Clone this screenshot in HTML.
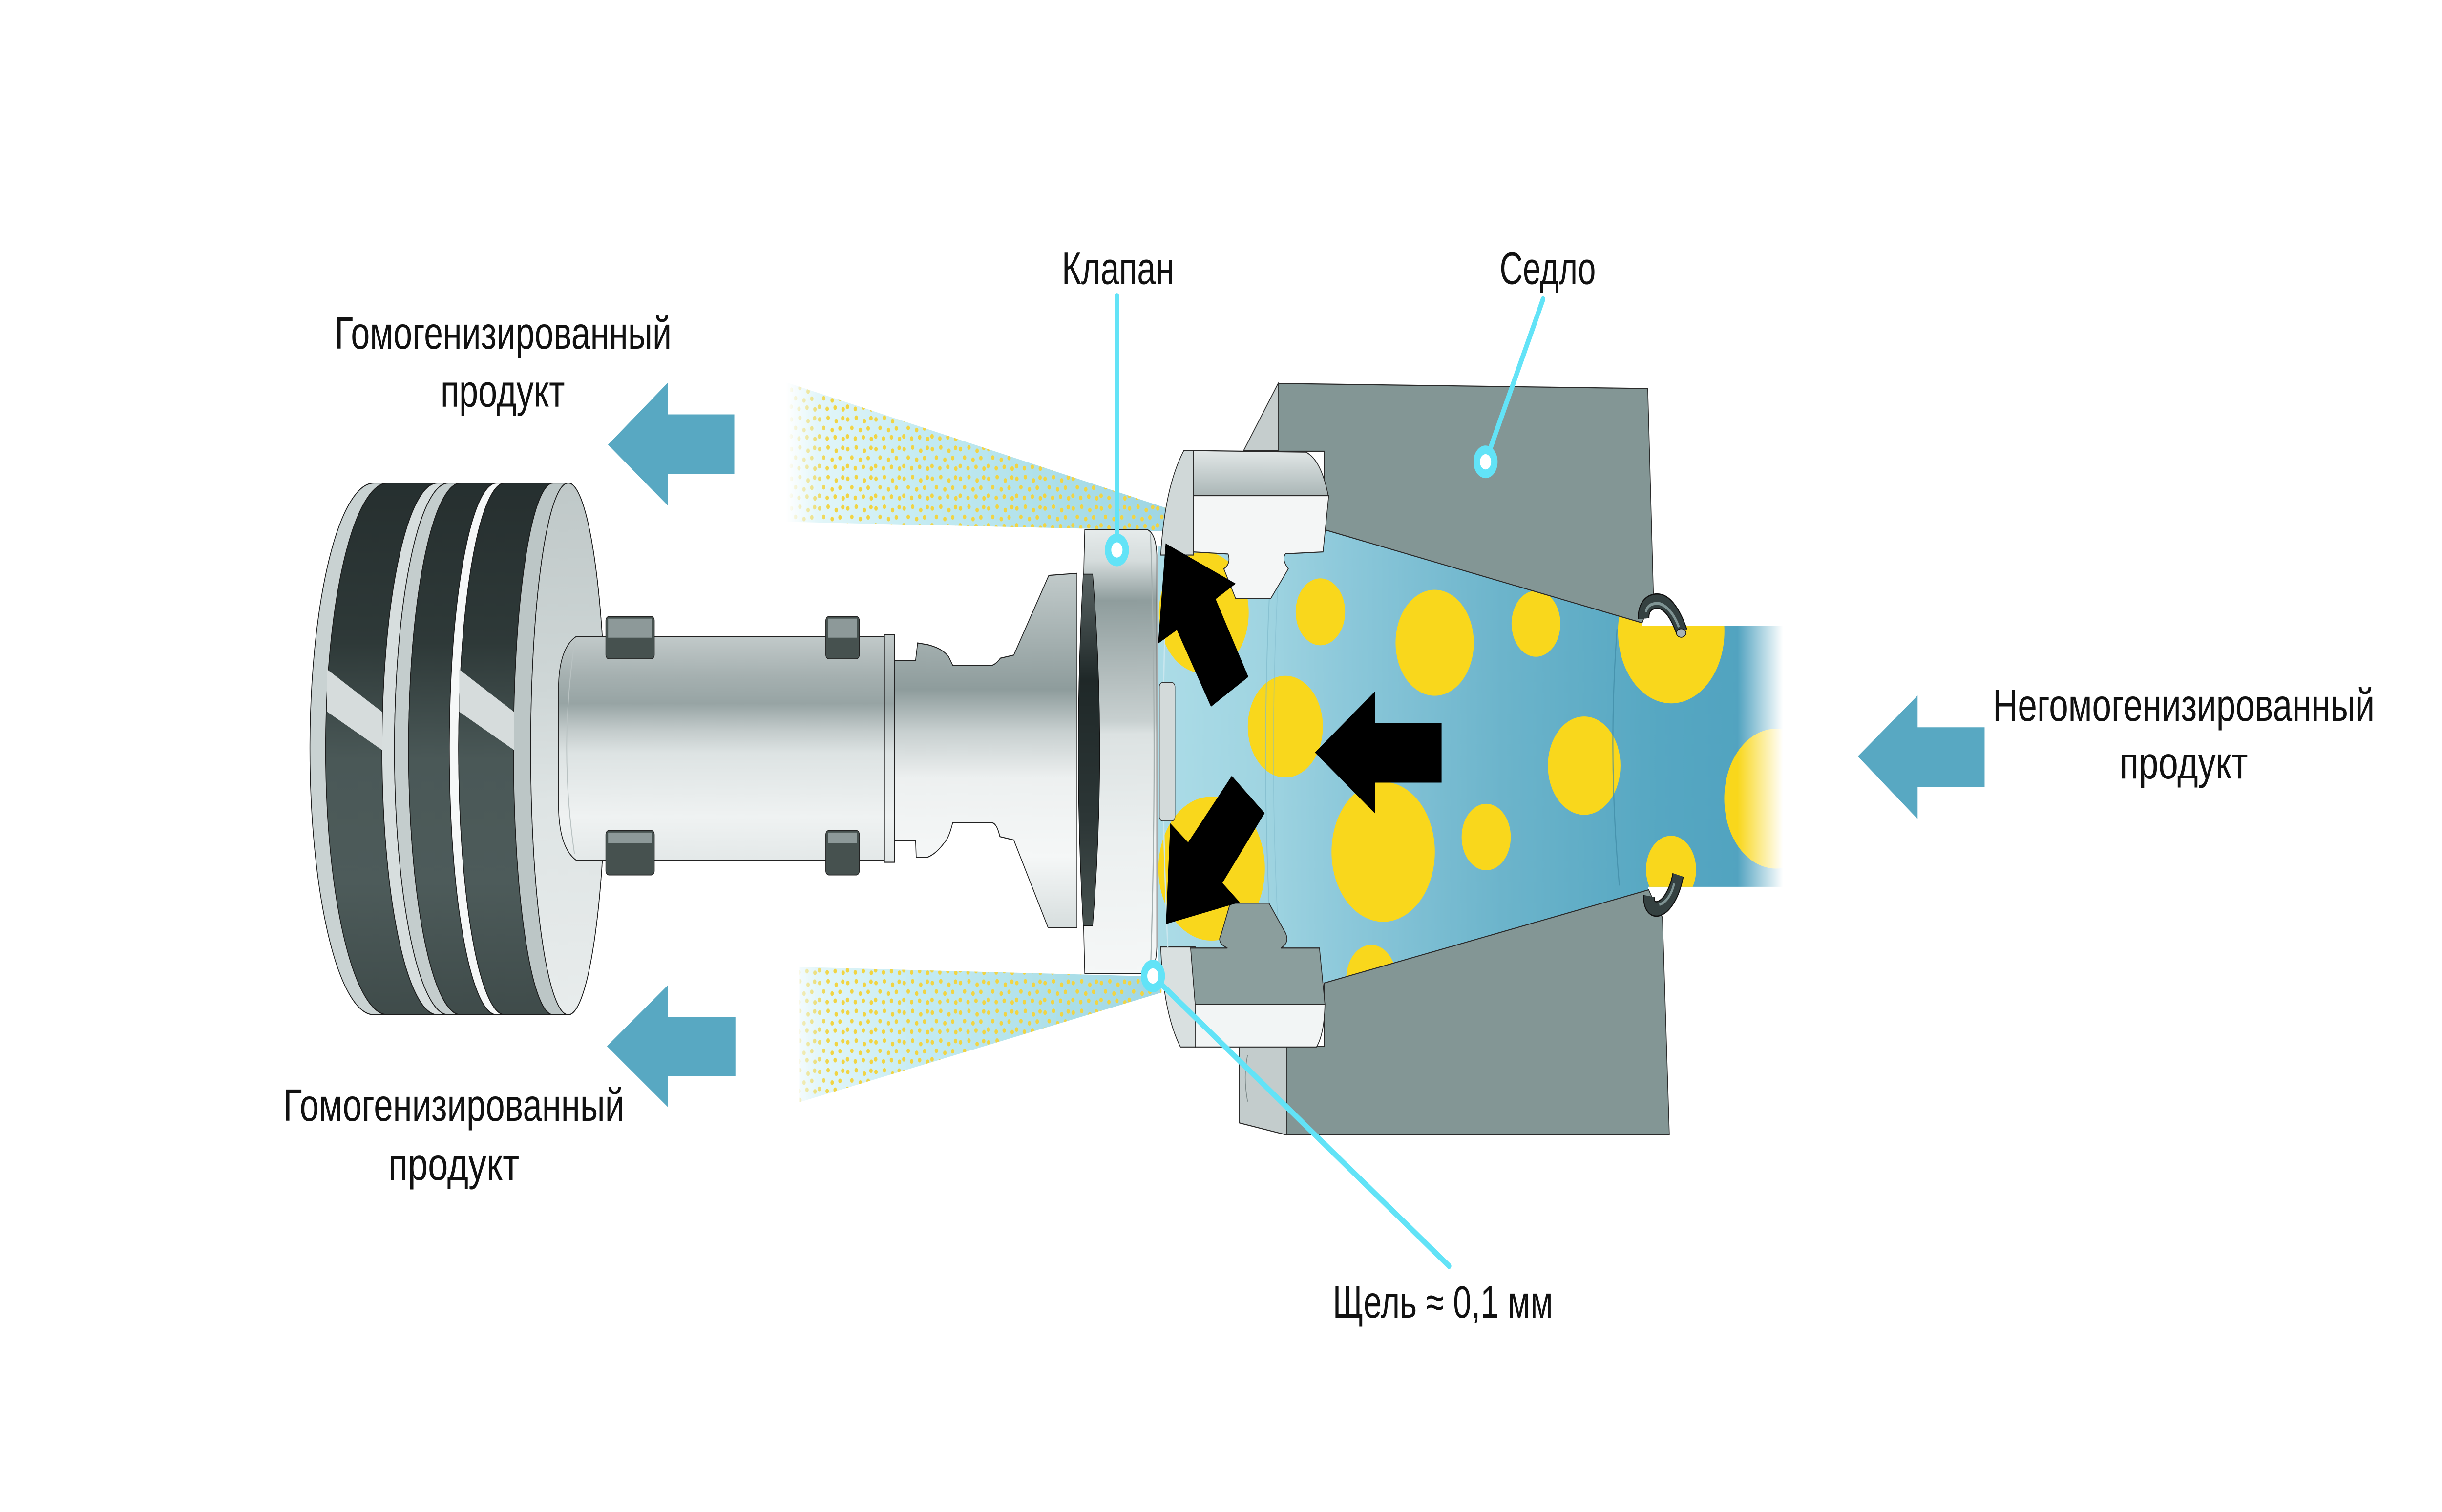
<!DOCTYPE html>
<html><head><meta charset="utf-8"><style>
html,body{margin:0;padding:0;width:100%;height:100%;background:#fff;overflow:hidden}
svg{display:block;position:absolute;left:0;top:0;width:100vw;height:100vh}
text{font-family:"Liberation Sans","DejaVu Sans",sans-serif;font-size:21.3px;fill:#111}
</style></head><body>
<svg xmlns="http://www.w3.org/2000/svg" viewBox="0 0 1560 713.7" preserveAspectRatio="none">
<defs>
<linearGradient id="spT" gradientUnits="userSpaceOnUse" x1="502" y1="0" x2="752" y2="0">
<stop offset="0" stop-color="#ffffff"/><stop offset="0.08" stop-color="#e3f6f9"/><stop offset="0.35" stop-color="#c4ebf2"/><stop offset="0.7" stop-color="#acdfe9"/><stop offset="1" stop-color="#9dd5e3"/></linearGradient>
<linearGradient id="fadeM" gradientUnits="userSpaceOnUse" x1="503" y1="0" x2="530" y2="0">
<stop offset="0" stop-color="#000"/><stop offset="1" stop-color="#fff"/></linearGradient>
<mask id="spMask" maskUnits="userSpaceOnUse" x="490" y="170" width="280" height="360"><rect x="490" y="170" width="280" height="360" fill="url(#fadeM)"/></mask>
<pattern id="dots" patternUnits="userSpaceOnUse" width="18" height="14">
<g fill="#f1d443">
<circle cx="1.6" cy="2" r="1.1"/><circle cx="7" cy="1.2" r="1.1"/><circle cx="12.2" cy="2.8" r="1.1"/><circle cx="16.4" cy="1.4" r="1.1"/>
<circle cx="4.2" cy="6" r="1.1"/><circle cx="9.6" cy="7" r="1.1"/><circle cx="14.6" cy="6.2" r="1.1"/>
<circle cx="1.4" cy="10" r="1.1"/><circle cx="6.4" cy="11" r="1.1"/><circle cx="11.5" cy="10.4" r="1.1"/><circle cx="16.6" cy="11.2" r="1.1"/>
</g></pattern>
<linearGradient id="blueG" gradientUnits="userSpaceOnUse" x1="740" y1="0" x2="1140" y2="0">
<stop offset="0" stop-color="#acdce7"/><stop offset="0.17" stop-color="#9fd4e1"/><stop offset="0.3" stop-color="#8cc8da"/><stop offset="0.55" stop-color="#6cb4cb"/><stop offset="0.8" stop-color="#56a7c2"/><stop offset="1" stop-color="#4fa1bf"/></linearGradient>
<linearGradient id="pf" gradientUnits="userSpaceOnUse" x1="1110" y1="0" x2="1139" y2="0">
<stop offset="0" stop-color="#fff" stop-opacity="0"/><stop offset="1" stop-color="#fff" stop-opacity="1"/></linearGradient>
<clipPath id="coneClip"><path d="M740,258 L846,250 L1049,294 L1049,295.5 L1142,295.5 L1142,418.6 L1053,418.6 L1053,420 L846,464 L740,462 Z"/></clipPath>
<linearGradient id="dk" gradientUnits="userSpaceOnUse" x1="0" y1="228" x2="0" y2="479">
<stop offset="0" stop-color="#262f2f"/><stop offset="0.3" stop-color="#2e3938"/><stop offset="0.52" stop-color="#4a5857"/><stop offset="0.75" stop-color="#4d5b5a"/><stop offset="1" stop-color="#3f4b4a"/></linearGradient>
<linearGradient id="fc" gradientUnits="userSpaceOnUse" x1="0" y1="228" x2="0" y2="479">
<stop offset="0" stop-color="#bfc8c8"/><stop offset="0.4" stop-color="#cfd7d7"/><stop offset="0.6" stop-color="#dee4e4"/><stop offset="1" stop-color="#e8ecec"/></linearGradient>
<linearGradient id="shaftG" gradientUnits="userSpaceOnUse" x1="0" y1="300" x2="0" y2="407">
<stop offset="0" stop-color="#c2caca"/><stop offset="0.18" stop-color="#a5b0b0"/><stop offset="0.3" stop-color="#97a4a4"/><stop offset="0.42" stop-color="#c3cbcb"/><stop offset="0.52" stop-color="#dde3e3"/><stop offset="0.8" stop-color="#eff2f2"/><stop offset="1" stop-color="#e3e8e8"/></linearGradient>
<linearGradient id="headG" gradientUnits="userSpaceOnUse" x1="0" y1="270" x2="0" y2="438">
<stop offset="0" stop-color="#c2cbcb"/><stop offset="0.2" stop-color="#a3afaf"/><stop offset="0.33" stop-color="#8e9c9c"/><stop offset="0.45" stop-color="#c8d0d0"/><stop offset="0.58" stop-color="#edf0f0"/><stop offset="0.8" stop-color="#f5f7f7"/><stop offset="1" stop-color="#d7dede"/></linearGradient>
<linearGradient id="discG" gradientUnits="userSpaceOnUse" x1="0" y1="250" x2="0" y2="460">
<stop offset="0" stop-color="#e6ebeb"/><stop offset="0.07" stop-color="#d5dcdc"/><stop offset="0.16" stop-color="#8f9d9d"/><stop offset="0.3" stop-color="#adb8b8"/><stop offset="0.43" stop-color="#c8d0d0"/><stop offset="0.46" stop-color="#dce2e2"/><stop offset="0.7" stop-color="#ecf0f0"/><stop offset="1" stop-color="#f5f7f7"/></linearGradient>
<linearGradient id="oringG" gradientUnits="userSpaceOnUse" x1="0" y1="271" x2="0" y2="437">
<stop offset="0" stop-color="#5a6464"/><stop offset="0.3" stop-color="#1f2828"/><stop offset="0.7" stop-color="#2c3636"/><stop offset="1" stop-color="#46514f"/></linearGradient>
<linearGradient id="nutTop" gradientUnits="userSpaceOnUse" x1="0" y1="212" x2="0" y2="234">
<stop offset="0" stop-color="#e4e9e9"/><stop offset="1" stop-color="#aab6b6"/></linearGradient>
</defs>

<rect x="0" y="0" width="1560" height="713.7" fill="#fff"/>

<!-- sprays -->
<polygon points="502,180.4 752,241.5 752,251 698,249.6 502,246.3" fill="url(#spT)"/>
<polygon points="502,180.4 752,241.5 752,251 698,249.6 502,246.3" fill="url(#dots)" mask="url(#spMask)"/>
<polygon points="510.6,456.4 742,461 742,468.5 510.6,520.3" fill="url(#spT)"/>
<polygon points="510.6,456.4 742,461 742,468.5 510.6,520.3" fill="url(#dots)" mask="url(#spMask)"/>

<!-- blue arrows -->
<g fill="#58a8c2">
<polygon points="388.4,209.9 426.7,180.6 426.7,195.6 469.1,195.6 469.1,223.7 426.7,223.7 426.7,238.7"/>
<polygon points="387.7,493.8 426.7,465 426.7,480 469.8,480 469.8,508 426.7,508 426.7,522.6"/>
<polygon points="1186.8,357 1225,328.3 1225,343.3 1267.8,343.3 1267.8,371.5 1225,371.5 1225,386.6"/>
</g>

<!-- blue cone interior & pipe -->
<path d="M740,258 L846,250 L1049,294 L1049,295.5 L1142,295.5 L1142,418.6 L1053,418.6 L1053,420 L846,464 L740,462 Z" fill="url(#blueG)"/>
<g clip-path="url(#coneClip)" fill="#f9d71c">
<circle cx="769" cy="289.2" r="28.7"/>
<circle cx="843.5" cy="288.8" r="15.8"/>
<circle cx="916.5" cy="303.4" r="25"/>
<circle cx="981.2" cy="294.4" r="15.6"/>
<circle cx="821.1" cy="343" r="24"/>
<circle cx="883.6" cy="402.1" r="33"/>
<circle cx="949.4" cy="395.1" r="15.7"/>
<circle cx="1012" cy="361.4" r="23.2"/>
<circle cx="1067.6" cy="298" r="34"/>
<circle cx="1067.5" cy="410.5" r="16"/>
<circle cx="1134.5" cy="377" r="33"/>
<circle cx="774" cy="410" r="34"/>
<circle cx="876" cy="462" r="16"/>
</g>
<path d="M812,266 Q805,355 812,446" fill="none" stroke="#7fb9cb" stroke-width="0.6" opacity="0.7"/>
<path d="M817,267 Q810,355 817,445" fill="none" stroke="#7fb9cb" stroke-width="0.5" opacity="0.5"/>
<path d="M1033,297 Q1027,357 1034.5,418" fill="none" stroke="#3f89a4" stroke-width="0.7" opacity="0.7"/>
<rect x="1108" y="290" width="45" height="135" fill="url(#pf)"/>

<!-- seat -->
<g stroke="#2a2a2a" stroke-width="0.5">
<path d="M816.5,181 L1052.6,183.4 L1056.2,280 L1049,294 L846,250 L846,213 L816.5,213 Z" fill="#839695"/>
<path d="M816.5,181 L794.5,212.6 L816.5,212.6 Z" fill="#c5cdcd"/>
<path d="M846,464 L1053.2,420 L1058,428 L1062,433 L1066.4,535.7 L821.8,535.7 L821.8,494 L846,494 Z" fill="#839695"/>
<path d="M791.6,494 L821.8,494 L821.8,535.7 L791.6,530 Z" fill="#c3cccc"/>
</g>
<path d="M797,498 Q794,508 797,520" fill="none" stroke="#7d8a8a" stroke-width="0.5"/>
<!-- O-rings -->
<g fill="none" stroke-linecap="butt">
<path d="M1050,292 C1049.5,285 1056,283 1061,284 C1067,285.5 1071.5,292 1074.5,298.5" stroke="#111" stroke-width="7.4"/>
<path d="M1050,292 C1049.5,285 1056,283 1061,284 C1067,285.5 1071.5,292 1074.5,298.5" stroke="#354141" stroke-width="6.2"/>
<path d="M1051.5,289 C1052,285.5 1056,284.5 1060.5,285 C1066,286.5 1070,291 1072.5,296" stroke="#7f9494" stroke-width="1.4"/>
<path d="M1072,413 C1070,421 1065,428 1059,429 C1055,429.5 1053,426.5 1053.5,423" stroke="#111" stroke-width="7.4"/>
<path d="M1072,413 C1070,421 1065,428 1059,429 C1055,429.5 1053,426.5 1053.5,423" stroke="#354141" stroke-width="6.2"/>
<path d="M1069.5,417 C1068,422 1064.5,426 1060,427" stroke="#7f9494" stroke-width="1.3"/>
</g>
<ellipse cx="1074" cy="298.8" rx="3" ry="2" fill="#a8b4b4" stroke="#111" stroke-width="0.4"/>

<!-- nut -->
<g stroke="#2a2a2a" stroke-width="0.5">
<path d="M756.3,212.6 Q744,230 741.5,262 L762.3,262 L762.3,212.6 Z" fill="#d0d8d8"/>
<path d="M756.3,212.6 L834.2,213.4 Q844,217 848.5,234 L762.3,234 L762.3,212.6 Z" fill="url(#nutTop)"/>
<path d="M762.3,234 L848.8,234 L845.2,260.5 L821.2,261.4 Q818.5,264 823,268.5 L811.7,282.6 L789.4,282.6 L781.8,268.5 Q786.5,266 784.5,261.5 L762.3,260.5 Z" fill="#f4f6f6"/>
<path d="M741.5,447 Q743,478 754.1,494.2 L763.5,494.2 L763.5,447 Z" fill="#d9e0e0"/>
<path d="M763.5,474 L846.4,474 Q846,488 841,494.2 L763.5,494.2 Z" fill="#f2f5f5"/>
<path d="M785.9,426.3 L810.6,426.3 L821.2,440.4 Q824,445 818.2,447.5 L842.9,447.5 L846.4,474 L763.5,474 L760.6,447.5 L784.1,447.5 Q777,445 780,441.3 Z" fill="#8b9e9d"/>
</g>
<path d="M746,262 Q740,355 746,447" fill="none" stroke="#c9e6ee" stroke-width="0.8"/>

<!-- piston disc -->
<g stroke="#1c1c1c" stroke-width="0.5">
<path d="M239,228 L363,228 A24,125.5 0 0 1 363,479 L239,479 A41,125.5 0 0 1 239,228 Z" fill="#c9d2d2"/>
<path d="M247.8,228 L279.5,228 A35.5,125.5 0 0 0 279.5,479 L247.8,479 A39.8,125.5 0 0 1 247.8,228 Z" fill="url(#dk)"/>
<path d="M279.5,228 L286.5,228 A34.5,125.5 0 0 0 286.5,479 L279.5,479 A35.5,125.5 0 0 1 279.5,228 Z" fill="#d7dede"/>
<path d="M286.5,228 L294.4,228 A33.4,125.5 0 0 0 294.4,479 L286.5,479 A34.5,125.5 0 0 1 286.5,228 Z" fill="#c4cdcd"/>
<path d="M294.4,228 L317.3,228 A30.3,125.5 0 0 0 317.3,479 L294.4,479 A33.4,125.5 0 0 1 294.4,228 Z" fill="url(#dk)"/>
<path d="M317.3,228 L322.6,228 A29.6,125.5 0 0 0 322.6,479 L317.3,479 A30.3,125.5 0 0 1 317.3,228 Z" fill="#f6f8f8"/>
<path d="M322.6,228 L353.4,228 A25.4,125.5 0 0 0 353.4,479 L322.6,479 A29.6,125.5 0 0 1 322.6,228 Z" fill="url(#dk)"/>
<path d="M353.4,228 L363,228 A24,125.5 0 0 0 363,479 L353.4,479 A25.4,125.5 0 0 1 353.4,228 Z" fill="#bcc6c6"/>
<ellipse cx="363" cy="353.5" rx="24" ry="125.5" fill="url(#fc)"/>
</g>
<g fill="#d6dcdc">
<polygon points="209,316 244,336 244,354 209,336"/>
<polygon points="293.4,316 328.3,336 328.3,354 293.4,336"/>
</g>

<!-- shaft -->
<path d="M368,300.5 L565,300.5 L565,406 L368,406 Q357,400 356.8,380 L356.8,325 Q357,306 368,300.5 Z" fill="url(#shaftG)" stroke="#222" stroke-width="0.5"/>
<path d="M367,303 Q362,330 362,353 Q362,378 367,403" fill="none" stroke="#b9c2c2" stroke-width="0.6"/>
<!-- clips -->
<g stroke="#222" stroke-width="0.4">
<rect x="387" y="291" width="31" height="20" rx="2" fill="#46514f"/>
<rect x="527.5" y="291" width="21.5" height="20" rx="2" fill="#46514f"/>
<rect x="387" y="392" width="31" height="21" rx="2" fill="#46514f"/>
<rect x="527.5" y="392" width="21.5" height="21" rx="2" fill="#46514f"/>
</g>
<g fill="#8d9999">
<rect x="388.5" y="292" width="28" height="9"/>
<rect x="529" y="292" width="18.5" height="9"/>
<rect x="388.5" y="393" width="28" height="5"/>
<rect x="529" y="393" width="18.5" height="5"/>
</g>
<rect x="565" y="299.5" width="6.5" height="107.5" fill="url(#shaftG)" stroke="#222" stroke-width="0.5"/>

<!-- valve head -->
<path d="M571.5,311.7 L584.9,311.7 L586.2,303.5 L592.6,304.3 Q602,306 606,310 L608.6,314 L634,314 Q637,313 639,310.7 L647.6,309.2 L670,271.6 L688,270.6 L688,437.8 L669.5,437.8 L647.6,396.5 L638.7,394.9 Q637,389 634,388.4 L608.6,388.4 Q606,396 603,398 Q598,403 592.6,404.6 L585.3,404.6 L584.9,396.7 L571.5,396.7 Z" fill="url(#headG)" stroke="#222" stroke-width="0.5"/>
<!-- valve disc -->
<path d="M693,250 L733,250 Q738.5,252 739,262 L739,447 Q738.5,458 733,459.5 L693,459.5 Q689,355 693,250 Z" fill="url(#discG)" stroke="#222" stroke-width="0.5"/>
<path d="M735,252 Q739.5,355 735,458" fill="none" stroke="#a4afaf" stroke-width="0.7"/>
<path d="M692,271 Q685.6,354 692,437 L698,437 Q707,354 698,271 Z" fill="url(#oringG)" stroke="#111" stroke-width="0.4"/>
<!-- nub -->
<rect x="740.6" y="322.2" width="10" height="65.3" rx="2" fill="#d3dada" stroke="#333" stroke-width="0.4"/>

<!-- black arrows -->
<g fill="#000">
<polygon points="744.6,256.5 789.4,275.5 776.6,282.8 797.5,319.5 773.6,333.6 751.8,297.4 739.8,303.8"/>
<polygon points="840,355.2 878.3,326.4 878.3,341.4 920.9,341.4 920.9,369.4 878.3,369.4 878.3,383.9"/>
<polygon points="744.8,436.2 747.6,388.6 759,397.6 786.9,366.2 807.9,383.8 780.9,416.8 792,425.9"/>
</g>

<!-- leader lines -->
<g stroke="#62e3f7" stroke-width="2.9" stroke-linecap="round" fill="none">
<line x1="713.5" y1="139.8" x2="713.5" y2="259.6"/>
<line x1="985.7" y1="141.3" x2="949" y2="218"/>
<line x1="736.5" y1="460.7" x2="925.7" y2="597.6"/>
</g>
<g fill="#62e3f7">
<circle cx="713.5" cy="259.6" r="7.7"/>
<circle cx="949" cy="218" r="7.7"/>
<circle cx="736.5" cy="460.7" r="7.7"/>
</g>
<g fill="#fff">
<circle cx="713.5" cy="259.6" r="3.6"/>
<circle cx="949" cy="218" r="3.6"/>
<circle cx="736.5" cy="460.7" r="3.6"/>
</g>

<!-- labels -->
<text x="213.8" y="164.6" textLength="215.2" lengthAdjust="spacingAndGlyphs">Гомогенизированный</text>
<text x="281.4" y="191.9" textLength="79.4" lengthAdjust="spacingAndGlyphs">продукт</text>
<text x="181" y="529" textLength="217.8" lengthAdjust="spacingAndGlyphs">Гомогенизированный</text>
<text x="248" y="557" textLength="83.7" lengthAdjust="spacingAndGlyphs">продукт</text>
<text x="678.3" y="134" textLength="71.7" lengthAdjust="spacingAndGlyphs">Клапан</text>
<text x="958" y="134" textLength="61.4" lengthAdjust="spacingAndGlyphs">Седло</text>
<text x="851.4" y="622" textLength="140.6" lengthAdjust="spacingAndGlyphs">Щель ≈ 0,1 мм</text>
<text x="1273" y="340.3" textLength="244" lengthAdjust="spacingAndGlyphs">Негомогенизированный</text>
<text x="1354" y="367.5" textLength="82" lengthAdjust="spacingAndGlyphs">продукт</text>
</svg>
</body></html>
